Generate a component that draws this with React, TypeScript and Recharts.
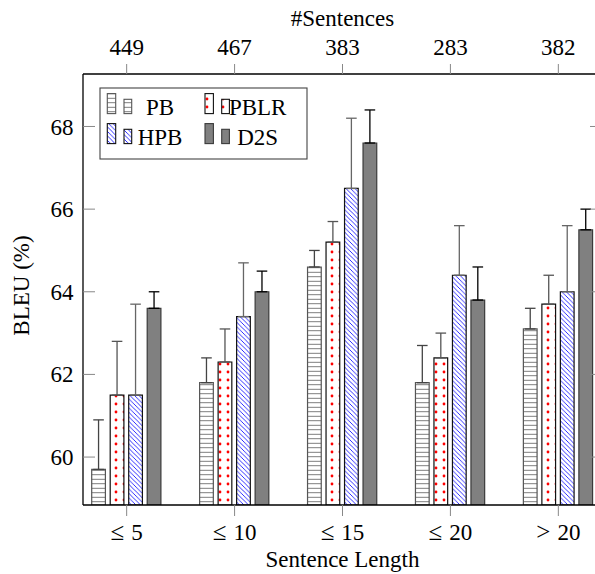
import React from "react";
import { Bar, BarChart, ErrorBar, Label, XAxis, YAxis } from "recharts";

const lengthLabels = ["≤ 5", "≤ 10", "≤ 15", "≤ 20", "> 20"];
const sentenceCounts = ["449", "467", "383", "283", "382"];
const yTicks = [60, 62, 64, 66, 68];

const pb = [59.7, 61.8, 64.6, 61.8, 63.1];
const pbTop = [60.9, 62.4, 65.0, 62.7, 63.6];
const pblr = [61.5, 62.3, 65.2, 62.4, 63.7];
const pblrTop = [62.8, 63.1, 65.7, 63.0, 64.4];
const hpb = [61.5, 63.4, 66.5, 64.4, 64.0];
const hpbTop = [63.7, 64.7, 68.2, 65.6, 65.6];
const d2s = [63.6, 64.0, 67.6, 63.8, 65.5];
const d2sTop = [64.0, 64.5, 68.4, 64.6, 66.0];

const FONT = "Liberation Serif, Times New Roman, serif";
const FS = 23;

const series = [
  { key: "pb", name: "PB", vals: pb, tops: pbTop, fill: "url(#patPB)", stroke: "#555", err: "#444" },
  { key: "pblr", name: "PBLR", vals: pblr, tops: pblrTop, fill: "url(#patPBLR)", stroke: "#111", err: "#555" },
  { key: "hpb", name: "HPB", vals: hpb, tops: hpbTop, fill: "url(#patHPB)", stroke: "#111", err: "#666" },
  { key: "d2s", name: "D2S", vals: d2s, tops: d2sTop, fill: "#808080", stroke: "#3a3a3a", err: "#000" },
];

const data = lengthLabels.map((_, i) => {
  const row: Record<string, any> = { idx: i };
  series.forEach((s) => {
    row[s.key] = s.vals[i];
    row[s.key + "Err"] = [0, +(s.tops[i] - s.vals[i]).toFixed(2)];
  });
  return row;
});

const xDomain = [-0.4046, 4.4046];
const yDomain = [58.84, 69.27];

function T(props: any) {
  const { children, ...rest } = props;
  return (
    <text fontFamily={FONT} fontSize={FS} fill="#000" {...rest}>
      {children}
    </text>
  );
}

const bottomTick = (p: any) => {
  const [rel, num] = lengthLabels[p.payload.value].split(" ");
  return (
    <T x={p.x} y={p.y} textAnchor="middle" dy="0.71em">
      <tspan fontSize={FS + 2}>{rel}</tspan>
      <tspan dx={7}>{num}</tspan>
    </T>
  );
};
const topTick = (p: any) => (
  <T x={p.x} y={p.y} textAnchor="middle">
    {sentenceCounts[p.payload.value]}
  </T>
);
const leftTick = (p: any) => (
  <T x={p.x} y={p.y} textAnchor="end" dy="0.35em">
    {p.payload.value}
  </T>
);

function Patterns() {
  return (
    <defs>
      <pattern id="patPB" width="6" height="4.5" patternUnits="userSpaceOnUse">
        <rect width="6" height="4.5" fill="#fff" />
        <line x1="0" y1="2.25" x2="6" y2="2.25" stroke="#666" strokeWidth="0.9" />
      </pattern>
      <pattern id="patPBLR" width="8" height="8" patternUnits="userSpaceOnUse">
        <rect width="8" height="8" fill="#fff" />
        <circle cx="4" cy="4" r="1.4" fill="#ff0000" />
      </pattern>
      <pattern id="patHPB" width="4.5" height="4.5" patternUnits="userSpaceOnUse">
        <rect width="4.5" height="4.5" fill="#fff" />
        <line x1="-1" y1="-1" x2="5.5" y2="5.5" stroke="#1a1aff" strokeWidth="0.9" />
        <line x1="-1" y1="3.5" x2="1" y2="5.5" stroke="#1a1aff" strokeWidth="0.9" />
        <line x1="3.5" y1="-1" x2="5.5" y2="1" stroke="#1a1aff" strokeWidth="0.9" />
      </pattern>
    </defs>
  );
}

function LegendBox() {
  return (
    <svg width={210} height={74} style={{ position: "absolute", left: 99, top: 87 }}>
      <rect x={1} y={1} width={207} height={71} fill="#fff" stroke="#444" strokeWidth={1.1} />
      {series.map((s, i) => {
        const col = i % 2;
        const row = Math.floor(i / 2);
        const ox = 1 + col * 97.7;
        const oy = 1 + row * 30;
        return (
          <g key={s.key}>
            <rect x={ox + 7.3} y={oy + 5.6} width={8.4} height={20} fill={s.fill} stroke={s.stroke} strokeWidth={1.1} />
            <rect x={ox + 24} y={oy + 11.3} width={7.7} height={14.3} fill={s.fill} stroke={s.stroke} strokeWidth={1.1} />
            <T x={ox + 60} y={oy + 26.6} textAnchor="middle">
              {s.name}
            </T>
          </g>
        );
      })}
    </svg>
  );
}

export default function App() {
  return (
    <div
      style={{
        position: "absolute",
        left: 0,
        top: 0,
        width: 595,
        height: 574,
        overflow: "hidden",
        background: "#fff",
      }}
    >
      <BarChart
        width={610}
        height={574}
        data={data}
        margin={{ top: 34, right: 0, bottom: 29, left: 23 }}
        barSize={13.7}
        barGap={4.8}
      >
        <Patterns />
        <XAxis
          dataKey="idx"
          type="number"
          domain={xDomain}
          allowDataOverflow
          ticks={[0, 1, 2, 3, 4]}
          interval={0}
          height={40}
          tickSize={11}
          tickMargin={8}
          tick={bottomTick}
          axisLine={{ stroke: "#000", strokeWidth: 1.3 }}
          tickLine={{ stroke: "#888", strokeWidth: 1 }}
        >
          <Label
            content={(p: any) => {
              const vb = p.viewBox;
              return (
                <T x={vb.x + vb.width / 2} y={vb.y + vb.height + 22} textAnchor="middle">
                  Sentence Length
                </T>
              );
            }}
          />
        </XAxis>
        <XAxis
          xAxisId="top"
          orientation="top"
          dataKey="idx"
          type="number"
          domain={xDomain}
          allowDataOverflow
          ticks={[0, 1, 2, 3, 4]}
          interval={0}
          height={40}
          tickSize={10}
          tickMargin={9}
          tick={topTick}
          axisLine={{ stroke: "#000", strokeWidth: 1.3 }}
          tickLine={{ stroke: "#888", strokeWidth: 1 }}
        >
          <Label
            content={(p: any) => {
              const vb = p.viewBox;
              return (
                <T x={vb.x + vb.width / 2} y={vb.y - 8} textAnchor="middle">
                  #Sentences
                </T>
              );
            }}
          />
        </XAxis>
        <YAxis
          domain={yDomain}
          allowDataOverflow
          ticks={yTicks}
          interval={0}
          width={60}
          tickSize={-12}
          tickMargin={21.5}
          tick={leftTick}
          axisLine={{ stroke: "#000", strokeWidth: 1.3 }}
          tickLine={{ stroke: "#888", strokeWidth: 1 }}
        >
          <Label
            content={(p: any) => {
              const vb = p.viewBox;
              const cx = vb.x - 2;
              const cy = vb.y + vb.height / 2 - 4;
              return (
                <T transform={`translate(${cx}, ${cy}) rotate(-90)`} textAnchor="middle" dy="0.35em">
                  BLEU (%)
                </T>
              );
            }}
          />
        </YAxis>
        <YAxis
          yAxisId="right"
          orientation="right"
          domain={yDomain}
          allowDataOverflow
          ticks={yTicks}
          interval={0}
          width={8}
          tickSize={-12}
          tick={() => <g />}
          axisLine={{ stroke: "#000", strokeWidth: 1.3 }}
          tickLine={{ stroke: "#888", strokeWidth: 1 }}
        />
        {series.map((s) => (
          <Bar
            key={s.key}
            dataKey={s.key}
            name={s.name}
            fill={s.fill}
            stroke={s.stroke}
            strokeWidth={1.2}
            isAnimationActive={false}
          >
            <ErrorBar dataKey={s.key + "Err"} width={5.3} stroke={s.err} strokeWidth={1.3} direction="y" />
          </Bar>
        ))}
      </BarChart>
      <LegendBox />
    </div>
  );
}
